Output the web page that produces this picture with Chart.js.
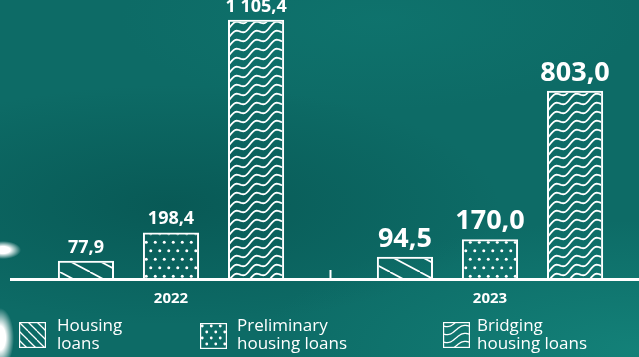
<!DOCTYPE html>
<html>
<head>
<meta charset="utf-8">
<script src="https://cdn.jsdelivr.net/npm/chart.js@4"></script>
<style>
  html, body { margin: 0; padding: 0; }
  body {
    width: 639px; height: 357px; overflow: hidden; position: relative;
    font-family: 'Open Sans', sans-serif;
    background:
      radial-gradient(ellipse 18px 9px at 3px 250px, #fff 40%, rgba(255,255,255,0) 100%),
      radial-gradient(ellipse 14px 30px at 0px 338px, #fff 40%, rgba(255,255,255,0) 100%),
      radial-gradient(ellipse 330px 120px at 170px 205px, rgba(5,78,75,0.6), rgba(5,78,75,0) 100%),
      radial-gradient(ellipse 380px 130px at 640px 350px, rgba(22,138,128,0.7), rgba(22,138,128,0) 100%),
      radial-gradient(ellipse 260px 90px at 380px 20px, rgba(16,122,115,0.5), rgba(16,122,115,0) 100%),
      #0d6b66;
  }
  #chart { position: absolute; left: 0; top: 0; }
  .sw { position: absolute; }
  .lbl { position: absolute; top: 316px; color: #fff; font-size: 17px; line-height: 18px; }
</style>
</head>
<body>
<canvas id="chart" width="650" height="319"></canvas>

<canvas class="sw" id="sw0" width="27" height="26" style="left:19px;top:322px"></canvas>
<div class="lbl" style="left:57px">Housing<br>loans</div>
<canvas class="sw" id="sw1" width="27" height="26" style="left:200px;top:323px"></canvas>
<div class="lbl" style="left:237px">Preliminary<br>housing loans</div>
<canvas class="sw" id="sw2" width="27" height="26" style="left:443px;top:322px"></canvas>
<div class="lbl" style="left:477px">Bridging<br>housing loans</div>

<script>
// Data
const years = ['2022', '2023'];
const seriesNames = ['Housing loans', 'Preliminary housing loans', 'Bridging housing loans'];
const housing = [77.9, 94.5];
const preliminary = [198.4, 170.0];
const bridging = [1105.4, 803.0];

// Patterns
function diagPattern(w, h, lw) {
  const c = document.createElement('canvas');
  c.width = w; c.height = h;
  const g = c.getContext('2d');
  g.strokeStyle = '#fff'; g.lineWidth = lw;
  for (let k = -1; k <= 1; k++) {
    g.beginPath(); g.moveTo(k * w, 0); g.lineTo(k * w + w, h); g.stroke();
  }
  return c;
}
function dotPattern(w, h, r) {
  const c = document.createElement('canvas');
  c.width = w; c.height = h;
  const g = c.getContext('2d');
  g.fillStyle = '#fff';
  [[w / 4, h / 4], [w * 3 / 4, h * 3 / 4]].forEach(p => {
    g.beginPath(); g.arc(p[0], p[1], r, 0, Math.PI * 2); g.fill();
  });
  return c;
}
function wavePattern(p, h, amp, lw) {
  const c = document.createElement('canvas');
  c.width = p; c.height = h;
  const g = c.getContext('2d');
  g.strokeStyle = '#fff'; g.lineWidth = lw;
  const s = h / p;
  for (let k = -2; k <= 3; k++) {
    g.beginPath();
    for (let x = -1; x <= p + 1; x += 0.5) {
      const y = k * h - s * x + amp * Math.sin(2 * Math.PI * x / p) + h / 2;
      if (x === -1) g.moveTo(x, y); else g.lineTo(x, y);
    }
    g.stroke();
  }
  return c;
}

const ctx = document.getElementById('chart').getContext('2d');
const pats = [
  ctx.createPattern(diagPattern(30, 16, 1.7), 'repeat'),
  ctx.createPattern(dotPattern(9, 17, 1.5), 'repeat'),
  ctx.createPattern(wavePattern(20, 9, 2.6, 1.8), 'repeat')
];

// legend swatches
function drawSwatch(id, tile) {
  const cv = document.getElementById(id);
  const g = cv.getContext('2d');
  g.fillStyle = g.createPattern(tile, 'repeat');
  g.fillRect(1, 1, cv.width - 2, cv.height - 2);
  g.strokeStyle = '#fff'; g.lineWidth = 1.2;
  g.strokeRect(0.6, 0.6, cv.width - 1.2, cv.height - 1.2);
}
drawSwatch('sw0', diagPattern(9, 9, 1.3));
drawSwatch('sw1', dotPattern(9, 12, 1.4));
drawSwatch('sw2', wavePattern(26, 8, 2.2, 1.3));

function fmt(v) {
  const parts = v.toFixed(1).split('.');
  return parts[0].replace(/\B(?=(\d{3})+(?!\d))/g, ' ') + ',' + parts[1];
}

const extras = {
  id: 'extras',
  afterDatasetsDraw(chart) {
    const c = chart.ctx;
    c.save();
    c.fillStyle = '#fff';
    c.textAlign = 'center';
    c.textBaseline = 'alphabetic';
    chart.data.datasets.forEach((ds, i) => {
      chart.getDatasetMeta(i).data.forEach((bar, j) => {
        const size = j === 0 ? 18 : 27;
        c.font = 'bold ' + size + 'px "Open Sans", sans-serif';
        c.fillText(fmt(ds.data[j]), bar.x, bar.y - (j === 0 ? 8 : 10));
      });
    });
    // short separator between the years
    const x = chart.scales.x.getPixelForValue(0.5);
    const b = chart.chartArea.bottom;
    c.strokeStyle = '#fff'; c.lineWidth = 2;
    c.beginPath(); c.moveTo(x, b - 9); c.lineTo(x, b); c.stroke();
    c.restore();
  }
};

new Chart(ctx, {
  type: 'bar',
  data: {
    labels: years,
    datasets: [
      { label: seriesNames[0], data: housing, backgroundColor: pats[0] },
      { label: seriesNames[1], data: preliminary, backgroundColor: pats[1] },
      { label: seriesNames[2], data: bridging, backgroundColor: pats[2] }
    ]
  },
  options: {
    responsive: false,
    animation: false,
    layout: { padding: { left: 11.5, right: 0.5, top: 0, bottom: 0 } },
    datasets: {
      bar: { borderColor: '#fff', borderWidth: 2, barPercentage: 0.66, categoryPercentage: 0.8 }
    },
    plugins: { legend: { display: false }, tooltip: { enabled: false } },
    scales: {
      x: {
        grid: { display: false, drawTicks: false },
        border: { display: true, color: '#fff', width: 3 },
        ticks: { color: '#fff', padding: 11, font: { family: 'Open Sans', size: 15, weight: 'bold' } }
      },
      y: { display: false, min: 0, max: 1190 }
    }
  },
  plugins: [extras]
});
</script>
</body>
</html>
